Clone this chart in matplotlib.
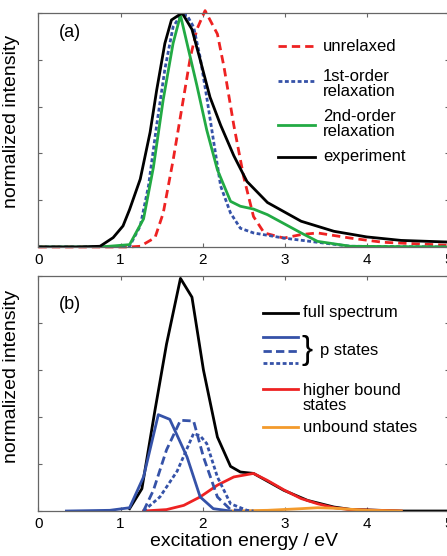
import matplotlib
matplotlib.use("Agg")
import matplotlib.pyplot as plt

plt.rcParams["font.family"] = ["Liberation Sans", "DejaVu Sans"]

# panel (a) spectra
exp_e = [0.0, 0.5, 0.75, 0.91, 1.03, 1.11, 1.24, 1.36, 1.44, 1.54, 1.62, 1.75, 1.87, 1.97,
         2.09, 2.22, 2.38, 2.54, 2.79, 3.2, 3.6, 4.0, 4.42, 5.0]
exp_i = [0.0, 0.0, 0.003, 0.04, 0.09, 0.16, 0.29, 0.49, 0.67, 0.87, 0.97, 1.0, 0.93, 0.80,
         0.64, 0.52, 0.39, 0.28, 0.19, 0.11, 0.067, 0.043, 0.028, 0.021]

first_e = [0.0, 1.0, 1.11, 1.24, 1.34, 1.44, 1.54, 1.64, 1.73, 1.81, 1.89, 1.97, 2.05, 2.13,
           2.22, 2.34, 2.46, 2.62, 2.99, 3.4, 3.8, 5.0]
first_i = [0.0, 0.0, 0.003, 0.09, 0.26, 0.52, 0.76, 0.94, 0.99, 0.99, 0.94, 0.81, 0.64, 0.46,
           0.26, 0.145, 0.08, 0.06, 0.038, 0.02, 0.003, 0.0]

second_e = [0.0, 0.75, 1.11, 1.28, 1.40, 1.52, 1.64, 1.73, 1.81, 1.93, 2.05, 2.18, 2.34, 2.46,
            2.62, 2.79, 2.99, 3.2, 3.4, 3.8, 5.0]
second_i = [0.0, 0.0, 0.01, 0.12, 0.34, 0.63, 0.87, 0.99, 0.87, 0.69, 0.50, 0.33, 0.195, 0.174,
            0.162, 0.138, 0.10, 0.06, 0.024, 0.003, 0.0]

unrel_e = [0.0, 1.11, 1.24, 1.42, 1.52, 1.64, 1.75, 1.85, 1.93, 2.03, 2.18, 2.26, 2.38, 2.50,
           2.62, 2.75, 2.99, 3.2, 3.4, 3.8, 4.2, 5.0]
unrel_i = [0.0, 0.0, 0.003, 0.04, 0.145, 0.37, 0.60, 0.81, 0.93, 1.01, 0.91, 0.77, 0.52, 0.30,
           0.13, 0.06, 0.038, 0.053, 0.06, 0.038, 0.02, 0.007]

# panel (b) decomposition
full_e = [1.11, 1.26, 1.42, 1.56, 1.73, 1.87, 2.01, 2.18, 2.34, 2.46, 2.62, 2.99, 3.28, 3.6,
          3.8, 4.42, 5.0]
full_i = [0.01, 0.095, 0.43, 0.71, 0.99, 0.91, 0.60, 0.315, 0.19, 0.166, 0.16, 0.088, 0.045,
          0.017, 0.007, 0.0, 0.0]

p1_e = [0.34, 0.87, 1.11, 1.28, 1.46, 1.60, 1.81, 1.97, 2.13, 2.34]
p1_i = [0.0, 0.003, 0.014, 0.145, 0.41, 0.39, 0.23, 0.06, 0.01, 0.0]

p2_e = [1.28, 1.40, 1.56, 1.73, 1.89, 2.01, 2.18, 2.34, 2.54]
p2_i = [0.0, 0.088, 0.26, 0.386, 0.383, 0.23, 0.06, 0.006, 0.0]

p3_e = [1.28, 1.48, 1.69, 1.89, 1.97, 2.05, 2.18, 2.34, 2.54, 2.62]
p3_i = [0.0, 0.06, 0.17, 0.33, 0.32, 0.287, 0.145, 0.031, 0.003, 0.0]

hb_e = [1.28, 1.56, 1.77, 1.97, 2.18, 2.38, 2.62, 2.79, 2.99, 3.2, 3.4, 3.6, 3.8, 4.42]
hb_i = [0.0, 0.006, 0.024, 0.06, 0.11, 0.145, 0.16, 0.13, 0.09, 0.053, 0.031, 0.014, 0.006, 0.0]

ub_e = [2.34, 2.79, 3.2, 3.4, 3.6, 4.0, 4.42]
ub_i = [0.0, 0.003, 0.01, 0.014, 0.012, 0.003, 0.0]

RED = "#ee2222"
BLUE = "#3552a8"
GREEN = "#22aa44"
ORANGE = "#f39a2c"
GREY = "#666666"
LW = 2.0

fig = plt.figure(figsize=(4.47, 5.56), dpi=100)
ax_a = fig.add_axes([0.0861, 0.5558, 0.918, 0.4209])
ax_b = fig.add_axes([0.0861, 0.0809, 0.918, 0.4227])

for ax in (ax_a, ax_b):
    ax.set_xlim(0, 5)
    ax.set_ylim(0, 1.0)
    ax.set_xticks([0, 1, 2, 3, 4, 5])
    ax.set_yticks([0, 0.2, 0.4, 0.6, 0.8, 1.0])
    ax.set_yticklabels([])
    ax.tick_params(direction="in", top=True, right=True, length=3, width=0.8,
                   color=GREY, labelsize=11, pad=4)
    for sp in ax.spines.values():
        sp.set_color(GREY)
        sp.set_linewidth(0.9)
    ax.set_ylabel("normalized intensity", fontsize=14)

ax_a.yaxis.set_label_coords(-0.045, 0.536)
ax_b.yaxis.set_label_coords(-0.045, 0.574)

# panel (a)
ax_a.plot(unrel_e, unrel_i, color=RED, lw=LW, dashes=(3, 1.8), clip_on=False)
ax_a.plot(first_e, first_i, color=BLUE, lw=LW, dashes=(1.4, 0.9))
ax_a.plot(second_e, second_i, color=GREEN, lw=LW)
ax_a.plot(exp_e, exp_i, color="black", lw=LW)
ax_a.text(0.05, 0.915, "(a)", transform=ax_a.transAxes, fontsize=13, va="center")

leg_a = [
    ("unrelaxed", RED, (3, 1.8), 0.859, 0.855),
    ("1st-order\nrelaxation", BLUE, (1.4, 0.9), 0.709, 0.697),
    ("2nd-order\nrelaxation", GREEN, None, 0.521, 0.526),
    ("experiment", "black", None, 0.385, 0.385),
]
for label, col, dash, yl, yt in leg_a:
    kw = {"dashes": dash} if dash else {}
    ax_a.plot([0.583, 0.674], [yl, yl], transform=ax_a.transAxes, color=col, lw=LW, **kw)
    ax_a.text(0.693, yt, label, transform=ax_a.transAxes, fontsize=12, va="center",
              linespacing=1.0)

# panel (b)
ax_b.plot(full_e, full_i, color="black", lw=LW)
ax_b.plot(hb_e, hb_i, color=RED, lw=LW)
ax_b.plot(ub_e, ub_i, color=ORANGE, lw=LW)
ax_b.plot(p1_e, p1_i, color=BLUE, lw=LW)
ax_b.plot(p2_e, p2_i, color=BLUE, lw=LW, dashes=(3, 1.5))
ax_b.plot(p3_e, p3_i, color=BLUE, lw=LW, dashes=(1.4, 0.9))
ax_b.text(0.05, 0.88, "(b)", transform=ax_b.transAxes, fontsize=13, va="center")

leg_b = [
    ("black", None, 0.843),
    (BLUE, None, 0.740),
    (BLUE, (3, 1.5), 0.681),
    (BLUE, (1.4, 0.9), 0.630),
    (RED, None, 0.519),
    (ORANGE, None, 0.357),
]
for col, dash, yl in leg_b:
    kw = {"dashes": dash} if dash else {}
    ax_b.plot([0.547, 0.632], [yl, yl], transform=ax_b.transAxes, color=col, lw=LW, **kw)
ax_b.text(0.644, 0.843, "full spectrum", transform=ax_b.transAxes, fontsize=12, va="center")
ax_b.text(0.641, 0.685, "}", transform=ax_b.transAxes, fontsize=24, va="center",
          fontweight="light")
ax_b.text(0.686, 0.681, "p states", transform=ax_b.transAxes, fontsize=12, va="center")
ax_b.text(0.644, 0.483, "higher bound\nstates", transform=ax_b.transAxes, fontsize=12,
          va="center", linespacing=1.0)
ax_b.text(0.644, 0.357, "unbound states", transform=ax_b.transAxes, fontsize=12, va="center")

ax_b.set_xlabel("excitation energy / eV", fontsize=14, labelpad=2)

fig.savefig("out.png", dpi=100)
